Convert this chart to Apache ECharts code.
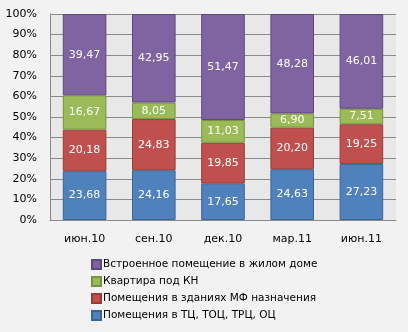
<!DOCTYPE html>
<html><head><meta charset="utf-8">
<script src="https://cdn.jsdelivr.net/npm/echarts@6/dist/echarts.min.js"></script>
<style>html,body{margin:0;padding:0;background:#f2f2f2}#c{width:408px;height:332px}</style>
</head><body><div id="c"></div>
<script>
const categories = ['июн.10','сен.10','дек.10','мар.11','июн.11'];
const seriesNames = ['Помещения в ТЦ, ТОЦ, ТРЦ, ОЦ','Помещения в зданиях МФ назначения','Квартира под КН','Встроенное помещение в жилом доме'];
const tc = [23.68,24.16,17.65,24.63,27.23];
const mf = [20.18,24.83,19.85,20.20,19.25];
const kn = [16.67,8.05,11.03,6.90,7.51];
const vstr = [39.47,42.95,51.47,48.28,46.01];
const yTicks = [0,10,20,30,40,50,60,70,80,90,100];

const colors = ['#4f81bd','#c0504d','#9bbb59','#8064a2'];
const borders = ['#3a6595','#953c3a','#789340','#5e4a7a'];
const values = [tc,mf,kn,vstr];
const font = 'Tahoma, "DejaVu Sans", sans-serif';
const chart = echarts.init(document.getElementById('c'));
chart.setOption({
  backgroundColor:'#f2f2f2',
  animation:false,
  color:colors,
  grid:{left:50,right:12,top:14,bottom:112,show:true,backgroundColor:'#e8e8e8',borderWidth:0},
  legend:{orient:'vertical',left:86,top:254,itemWidth:9,itemHeight:9,itemGap:6,
    data:[seriesNames[3],seriesNames[2],seriesNames[1],seriesNames[0]],
    textStyle:{fontFamily:font,fontSize:10.5,color:'#000',padding:[0,0,0,-3]},
    icon:'rect'},
  xAxis:{type:'category',data:categories,
    axisLine:{lineStyle:{color:'#8a8a8a'}},axisTick:{show:false},
    axisLabel:{fontFamily:font,fontSize:11,color:'#000',margin:14}},
  yAxis:{type:'value',min:0,max:100,interval:10,
    axisLine:{show:true,lineStyle:{color:'#8a8a8a'}},axisTick:{show:false},
    splitLine:{lineStyle:{color:'#8a8a8a'}},
    axisLabel:{fontFamily:font,fontSize:11,color:'#000',margin:13,
      formatter:v=>yTicks.includes(v)?v+'%':''}},
  series:values.map((d,i)=>({
    name:seriesNames[i],type:'bar',stack:'a',barWidth:'63%',
    data:d,
    itemStyle:{color:colors[i],borderColor:borders[i],borderWidth:1},
    label:{show:true,position:'inside',color:'#fff',fontFamily:font,fontSize:11,
      formatter:p=>p.value.toFixed(2).replace('.',',')}
  }))
});
</script></body></html>
